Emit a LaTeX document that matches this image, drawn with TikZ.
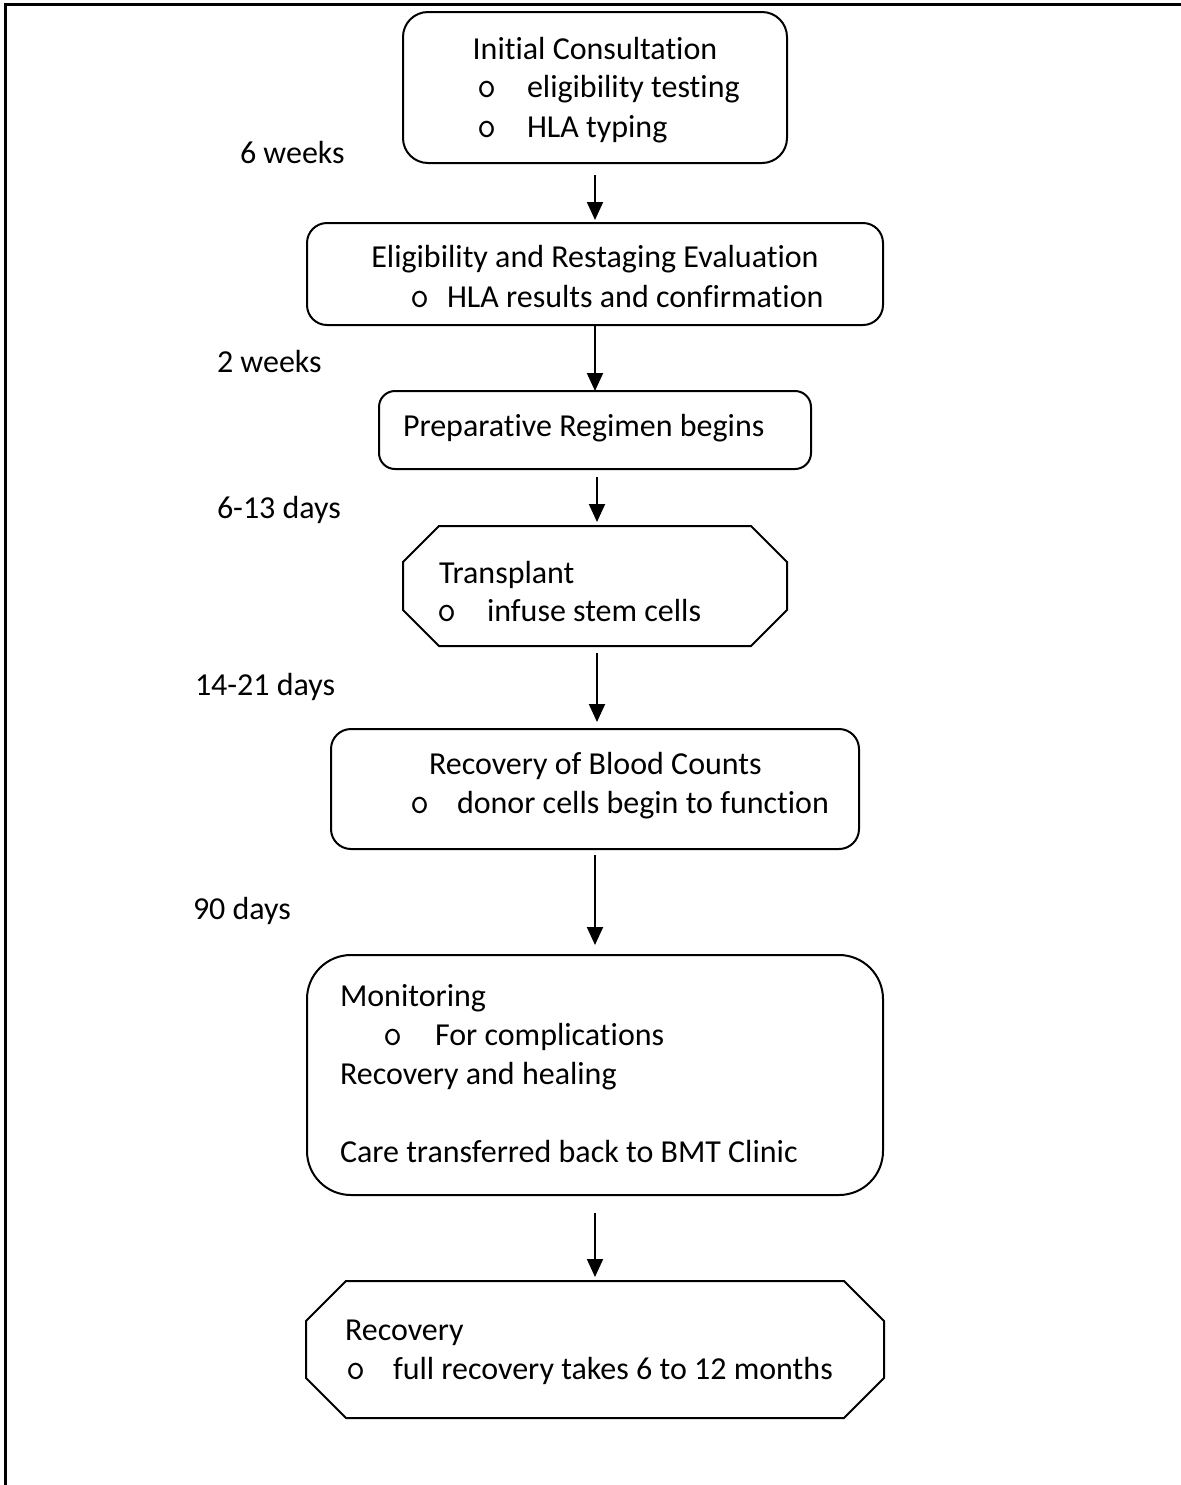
\documentclass[tikz,border=0pt]{standalone}
\usepackage{fontspec}
\setmainfont{Carlito}[Ligatures={NoCommon}]
\newfontfamily\bulletfont{Latin Modern Mono}
\usetikzlibrary{arrows.meta,calc}

% chamfered (octagonal) outline around a named node
\newcommand\octframe[2]{%
  \draw[boxline]
    ([xshift=#2]#1.north west) -- ([xshift=-#2]#1.north east)
    -- ([yshift=-#2]#1.north east) -- ([yshift=#2]#1.south east)
    -- ([xshift=-#2]#1.south east) -- ([xshift=#2]#1.south west)
    -- ([yshift=#2]#1.south west) -- ([yshift=-#2]#1.north west) -- cycle;}

\begin{document}
\begin{tikzpicture}[x=0.5pt,y=-0.5pt,
  every node/.style={inner sep=0pt, outer sep=0pt},
  boxline/.style={line width=1pt},
  rbox/.style={draw, line width=1pt, rounded corners=#1},
  rbox/.default=10pt,
  plainbox/.style={},
  txt/.style={anchor=base west, font=\fontsize{16pt}{19.5pt}\selectfont},
  ctxt/.style={anchor=base, font=\fontsize{16pt}{19.5pt}\selectfont},
  bul/.style={anchor=base, font=\bulletfont\fontsize{18.5pt}{19.5pt}\selectfont},
  frameline/.style={line width=1.5pt},
  flow/.style={line width=1pt, -{Triangle[length=9pt,width=8pt]}}
]
\useasboundingbox (0,0) rectangle (1181,1485);

% page frame (top and left edges)
\coordinate (ftr) at (1181,4);
\coordinate (ftl) at (5,4);
\coordinate (fbl) at (5,1485);
\draw[frameline] (ftr) -- (ftl) -- (fbl);

% boxes
\node[rbox=12.5pt, minimum width=192pt, minimum height=75.5pt] (b1) at (595,87.5) {};
\node[rbox=10pt, minimum width=288pt, minimum height=51pt] (b2) at (595,274) {};
\node[rbox=8pt, minimum width=216pt, minimum height=39pt] (b3) at (595,430) {};
\node[plainbox, minimum width=192pt, minimum height=60pt] (b4) at (595,586) {};
\octframe{b4}{18pt}
\node[rbox=10pt, minimum width=264pt, minimum height=60pt] (b5) at (595,789) {};
\node[rbox=22pt, minimum width=288pt, minimum height=120pt] (b6) at (595,1075) {};
\node[plainbox, minimum width=289pt, minimum height=68.5pt] (b7) at (595,1349.5) {};
\octframe{b7}{20pt}

% box texts
\node[ctxt] (b1t1) at (595,59) {Initial Consultation};
\node[bul] (b1o1) at (487,97) {o};
\node[txt] (b1t2) at (527,97) {eligibility testing};
\node[bul] (b1o2) at (487,137) {o};
\node[txt] (b1t3) at (527,137) {HLA typing};

\node[ctxt] (b2t1) at (595,267) {Eligibility and Restaging Evaluation};
\node[bul] (b2o1) at (420,307) {o};
\node[txt] (b2t2) at (447,307) {HLA results and confirmation};

\node[txt] (b3t1) at (403,436) {Preparative Regimen begins};

\node[txt] (b4t1) at (439,583) {Transplant};
\node[bul] (b4o1) at (447,621) {o};
\node[txt] (b4t2) at (487,621) {infuse stem cells};

\node[txt] (b5t1) at (429,774) {Recovery of Blood Counts};
\node[bul] (b5o1) at (420,813) {o};
\node[txt] (b5t2) at (457,813) {donor cells begin to function};

\node[txt] (b6t1) at (340,1006) {Monitoring};
\node[bul] (b6o1) at (393,1045) {o};
\node[txt] (b6t2) at (435,1045) {For complications};
\node[txt] (b6t3) at (340,1084) {Recovery and healing};
\node[txt] (b6t4) at (340,1162) {Care transferred back to BMT Clinic};

\node[txt] (b7t1) at (345,1340) {Recovery};
\node[bul] (b7o1) at (356,1379) {o};
\node[txt] (b7t2) at (393,1379) {full recovery takes 6 to 12 months};

% time labels
\node[txt] (l1) at (240,163) {6 weeks};
\node[txt] (l2) at (217,372) {2 weeks};
\node[txt] (l3) at (217,518) {6-13 days};
\node[txt] (l4) at (195,695) {14-21 days};
\node[txt] (l5) at (193,919) {90 days};

% connectors
\draw[flow, shorten <=6pt, shorten >=1.5pt] (b1.south) -- (b2.north);
\draw[flow] (b2.south) -- (b3.north);
\draw[flow, shorten <=4pt, shorten >=2pt] ([xshift=1pt]b3.south) -- ([xshift=1pt]b4.north);
\draw[flow, shorten <=3.5pt, shorten >=3.5pt] ([xshift=1pt]b4.south) -- ([xshift=1pt]b5.north);
\draw[flow, shorten <=3pt, shorten >=5pt] (b5.south) -- (b6.north);
\draw[flow, shorten <=9pt, shorten >=2pt] (b6.south) -- (b7.north);
\end{tikzpicture}
\end{document}
